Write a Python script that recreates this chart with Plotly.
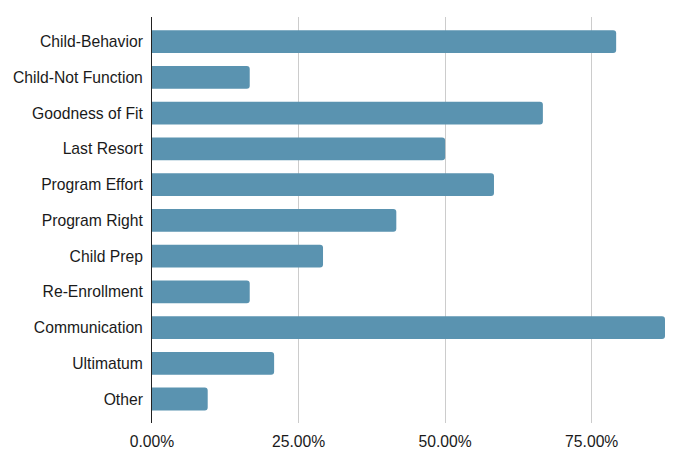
import plotly.graph_objects as go

categories = ["Child-Behavior", "Child-Not Function", "Goodness of Fit", "Last Resort",
              "Program Effort", "Program Right", "Child Prep", "Re-Enrollment",
              "Communication", "Ultimatum", "Other"]
values = [0.7917, 0.1667, 0.6667, 0.50, 0.5833, 0.4167, 0.2917, 0.1667, 0.875, 0.2083, 0.095]
tick_vals = [0, 0.25, 0.5, 0.75]
tick_text = ["0.00%", "25.00%", "50.00%", "75.00%"]

fig = go.Figure(go.Bar(
    x=values, y=categories, orientation="h",
    marker=dict(color="#5a93b0", line=dict(width=0)),
    width=0.64,
))
# page body has an 8px default margin; compensate so the plot lands where the reference has it
fig.update_layout(
    width=677, height=457,
    margin=dict(l=144, r=20, t=9, b=42),
    plot_bgcolor="white", paper_bgcolor="white",
    font=dict(family="Liberation Sans, Arial, sans-serif", size=15.7, color="#1a1a1a"),
    barcornerradius=3,
    showlegend=False,
)
fig.update_xaxes(range=[0, 0.875], tickvals=tick_vals, ticktext=tick_text,
                 showgrid=True, gridcolor="#cccccc", gridwidth=1, automargin=False,
                 zeroline=False, showline=False, ticks="", ticklabelstandoff=7)
fig.update_yaxes(categoryorder="array", categoryarray=categories,
                 autorange=False, range=[10.67, -0.69], automargin=False,
                 showline=True, linecolor="#222", linewidth=1,
                 showgrid=False, ticks="", ticklabelstandoff=5)
fig.write_html("out.html")
